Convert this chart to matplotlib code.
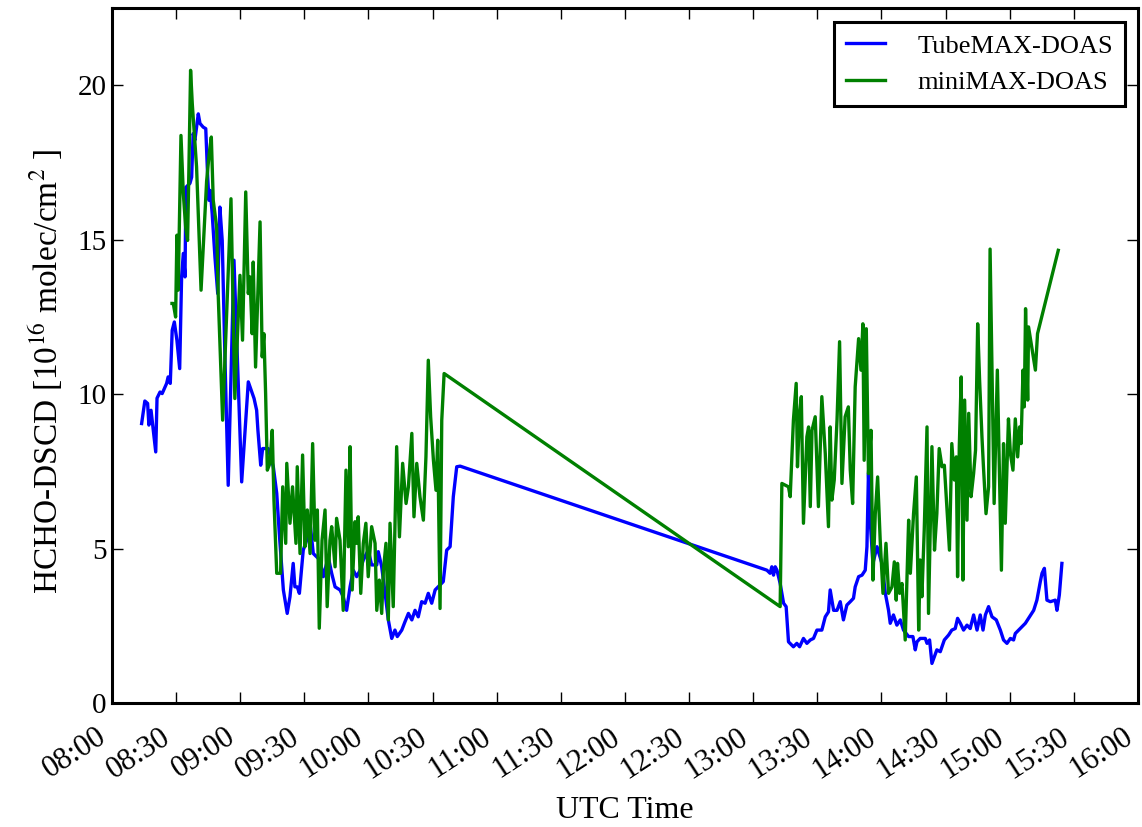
import matplotlib
matplotlib.use("Agg")
import matplotlib.pyplot as plt

plt.rcParams['font.family'] = ['Liberation Serif', 'DejaVu Serif']
plt.rcParams['mathtext.fontset'] = 'stix'

# minutes after 08:00 UTC, HCHO-DSCD in 1e16 molec/cm2
tube_min = [13.9, 15.4, 16.7, 17.3, 18.3, 20.5, 21.1, 22.5, 23.5, 25.6, 26.3, 27.3, 28.2, 29.2, 30.4, 31.7,
            32.6, 33.4, 34.2, 34.6, 36.5, 37.3, 38.0, 38.8, 40.4, 41.2, 42.7, 43.9, 44.8, 45.4, 46.0, 46.9,
            48.2, 49.5, 50.5, 51.6, 52.9, 54.4, 57.1, 60.7, 63.8, 66.5, 67.7, 68.3, 69.6, 70.5, 73.1, 75.5,
            77.1, 78.3, 80.2, 82.0, 83.3, 84.8, 85.6, 86.7, 87.7, 89.5, 91.1, 92.7, 94.2, 97.3, 98.9, 101.2,
            102.8, 104.4, 106.7, 108.2, 109.8, 111.4, 112.9, 114.5, 116.1, 117.6, 119.9, 121.5, 123.9, 124.6,
            126.2, 127.8, 129.3, 130.9, 132.4, 133.5, 135.6, 137.1, 138.7, 140.3, 141.8, 143.3, 144.9, 146.5,
            148.0, 149.6, 151.2, 155.0, 156.6, 158.2, 159.7, 161.3, 162.9,
            306.4, 307.9, 308.7, 309.5, 310.3, 311.1, 312.6, 314.2, 315.4, 316.5, 318.8, 320.4, 321.7, 323.5,
            325.1, 326.7, 328.2, 329.8, 332.1, 333.7, 335.2, 336.0, 337.6, 339.2, 340.7, 342.2, 343.8, 345.4,
            346.9, 347.7, 349.3, 350.9, 352.4, 353.2, 353.9, 354.7, 356.0, 357.9, 360.2, 361.8, 363.3, 364.1,
            365.6, 367.2, 368.8, 370.3, 372.7, 374.7, 375.8, 376.6, 378.1, 380.5, 381.3, 382.5, 383.6, 385.9,
            387.5, 389.4, 391.4, 392.9, 394.5, 395.6, 396.9, 398.4, 400.0, 401.5, 403.1, 404.7, 406.2, 407.5,
            408.6, 410.1, 411.7, 413.7, 415.6, 417.1, 418.7, 420.3, 421.8, 422.6, 424.9, 427.3, 428.8, 431.2,
            432.7, 434.3, 435.1, 436.2, 437.4, 439.0, 441.3, 442.1, 443.2, 444.4]
tube_val = [9.05, 9.78, 9.70, 9.00, 9.48, 8.13, 9.87, 10.07, 10.02, 10.35, 10.56, 10.35, 12.07, 12.34, 11.75, 10.83,
            13.80, 14.56, 13.80, 16.70, 16.83, 17.03, 18.44, 18.22, 19.08, 18.77, 18.65, 18.60, 17.03, 16.28, 16.60, 15.85,
            14.44, 13.26, 16.06, 14.98, 11.10, 7.05, 14.34, 7.16, 10.40, 9.86, 9.48, 8.83, 7.70, 8.24, 8.24, 7.65,
            6.79, 5.49, 3.66, 2.90, 3.44, 4.52, 3.76, 3.76, 3.55, 4.95, 5.27, 5.82, 4.84, 4.63, 4.09, 4.73,
            4.20, 3.76, 3.66, 3.44, 3.00, 3.76, 4.30, 4.09, 4.30, 4.63, 4.95, 4.47, 4.47, 4.90,
            4.41, 3.55, 2.69, 2.09, 2.36, 2.15, 2.36, 2.63, 2.90, 2.69, 3.00, 2.79, 3.28, 3.23,
            3.55, 3.23, 3.66, 3.93, 4.95, 5.06, 6.68, 7.65, 7.67,
            4.30, 4.20, 4.41, 4.14, 4.41, 4.30, 3.87, 3.23, 3.12, 1.98, 1.82, 1.93, 1.82, 2.09,
            1.93, 2.04, 2.09, 2.36, 2.36, 2.79, 2.95, 3.66, 3.00, 3.00, 3.28, 2.69, 3.17, 3.28,
            3.39, 3.76, 4.09, 4.14, 4.30, 5.06, 7.43, 5.92, 4.52, 5.06, 4.52, 3.55, 3.00, 2.58,
            2.85, 2.52, 2.69, 2.36, 2.15, 2.15, 1.72, 1.98, 2.09, 2.09, 1.93, 2.04, 1.28, 1.72,
            1.66, 2.04, 2.20, 2.36, 2.41, 2.74, 2.58, 2.36, 2.52, 2.41, 2.85, 2.36, 2.85, 2.36,
            2.85, 3.12, 2.79, 2.69, 2.36, 2.04, 1.93, 2.09, 2.04, 2.25, 2.41, 2.58, 2.74, 3.00,
            3.33, 3.93, 4.20, 4.36, 3.33, 3.28, 3.33, 3.00, 3.50, 4.52]

mini_min = [28.1, 28.7, 29.8, 30.4, 31.0, 32.3, 33.4, 34.5, 35.4, 36.0, 36.8, 37.6, 39.6, 41.7, 44.3, 45.5,
            46.5, 47.4, 49.0, 49.7, 51.8, 55.7, 57.5, 59.9, 61.1, 62.6, 63.8, 64.6, 65.6, 66.1, 67.2, 69.3,
            70.3, 71.1, 71.9, 72.7, 73.9, 75.0, 75.8, 77.1, 78.9, 79.9, 81.3, 81.8, 83.3, 84.5, 86.1, 86.7,
            88.0, 89.2, 90.3, 91.4, 92.7, 93.9, 95.0, 96.1, 97.0, 98.3, 99.7, 100.7, 102.0, 102.8, 104.4, 105.1,
            106.7, 108.2, 109.5, 110.6, 111.4, 112.4, 113.7, 114.5, 115.2, 116.4, 117.6, 118.8, 119.9, 121.5,
            123.1, 123.9, 125.1, 126.2, 127.0, 128.2, 129.3, 130.1, 131.6, 133.2, 134.5, 136.0, 137.6, 138.7,
            140.3, 141.3, 142.6, 144.1, 145.7, 146.9, 148.0, 149.1, 150.4, 151.6, 152.4, 153.5, 154.3, 155.4,
            312.6, 313.4, 316.5, 317.3, 318.8, 320.1, 320.7, 321.7, 322.5, 323.5, 325.1, 325.9, 326.7, 327.5,
            329.0, 330.5, 332.1, 333.7, 335.2, 336.0, 336.8, 337.9, 339.2, 340.4, 341.5, 343.0, 344.5, 345.4,
            346.5, 347.7, 349.3, 350.4, 351.3, 351.9, 352.9, 353.9, 355.1, 356.0, 357.1, 358.2, 359.4, 360.7,
            362.1, 363.3, 364.9, 366.0, 366.9, 367.5, 368.5, 369.6, 371.1, 372.7, 373.5, 375.0, 376.3, 377.4,
            378.1, 378.9, 380.0, 381.3, 382.0, 383.6, 384.8, 385.9, 387.0, 388.3, 389.4, 391.8, 392.9, 394.1,
            395.0, 395.6, 396.4, 397.3, 398.1, 398.9, 400.0, 400.8, 401.9, 403.1, 404.0, 405.0, 405.9, 407.0,
            407.7, 408.9, 410.1, 410.8, 412.7, 414.2, 415.6, 416.1, 417.1, 417.9, 419.4, 420.3, 421.5, 422.6,
            423.7, 424.6, 425.3, 426.2, 426.8, 427.4, 428.4, 428.8, 432.0, 433.0, 442.7]
mini_val = [12.94, 12.94, 12.50, 15.15, 13.37, 18.38, 16.50, 15.41, 14.98, 17.25, 20.49, 19.40, 17.36, 13.37, 16.90, 17.79,
            18.33, 16.28, 15.41, 13.26, 9.16, 16.33, 9.86, 13.85, 11.75, 16.55, 13.26, 13.80, 11.96, 14.28, 10.88, 15.58,
            11.21, 11.96, 10.02, 7.54, 7.76, 8.83, 6.57, 4.20, 4.20, 7.00, 5.17, 7.76, 5.82, 7.00, 5.17, 7.65,
            4.84, 8.03, 5.06, 6.25, 4.84, 8.40, 5.27, 6.25, 2.42, 5.27, 6.25, 3.12, 5.27, 5.71, 4.41, 5.98,
            5.27, 3.00, 7.54, 5.06, 8.30, 3.66, 5.87, 5.17, 6.03, 3.55, 5.17, 5.82, 4.09, 5.71,
            5.17, 3.00, 3.98, 2.90, 4.30, 5.17, 2.69, 5.82, 3.12, 8.30, 5.38, 7.76, 6.46, 7.00,
            8.73, 6.03, 7.76, 6.68, 5.92, 7.97, 11.10, 9.27, 7.86, 6.89, 8.51, 3.06, 9.16, 10.67,
            3.12, 7.11, 7.00, 6.68, 9.16, 10.35, 7.65, 9.38, 9.92, 5.82, 8.62, 8.94, 6.36, 8.83,
            9.27, 6.36, 9.92, 8.08, 5.71, 8.94, 6.57, 7.22, 9.16, 11.70, 7.11, 9.27, 9.59, 7.54,
            6.46, 10.24, 11.80, 10.78, 12.28, 7.86, 12.12, 7.43, 8.83, 3.98, 6.13, 7.32, 5.27, 3.55,
            5.17, 3.55, 3.76, 4.57, 3.33, 4.52, 3.55, 3.87, 2.04, 5.92, 4.20, 6.13, 7.32, 2.36,
            4.63, 3.44, 5.60, 8.94, 2.90, 8.30, 4.95, 6.13, 8.24, 7.65, 7.70, 4.95, 8.40, 7.22,
            7.97, 4.09, 8.30, 10.56, 3.98, 9.81, 5.92, 9.38, 6.68, 7.43, 8.19, 12.28, 10.45, 8.62,
            7.65, 6.13, 7.00, 14.70, 6.46, 10.78, 5.92, 4.30, 8.40, 5.82, 9.20, 8.08, 7.54, 9.20,
            7.97, 8.94, 8.40, 10.78, 9.59, 12.77, 9.81, 12.18, 10.78, 11.96, 14.66]

tick_labels = ["08:00", "08:30", "09:00", "09:30", "10:00", "10:30", "11:00", "11:30", "12:00",
               "12:30", "13:00", "13:30", "14:00", "14:30", "15:00", "15:30", "16:00"]
y_ticks = [0, 5, 10, 15, 20]

def to_hours(mins):
    return [8 + m / 60.0 for m in mins]

def label_to_hours(lbl):
    h, m = lbl.split(":")
    return int(h) + int(m) / 60.0

fig = plt.figure(figsize=(11.42, 8.27), dpi=100)
ax = fig.add_axes([0.098, 0.150, 0.8985, 0.840])

ax.plot(to_hours(tube_min), tube_val, color='#0000ff', lw=2.4, label='TubeMAX-DOAS')
ax.plot(to_hours(mini_min), mini_val, color='#008000', lw=2.4, label='miniMAX-DOAS')

ax.set_xlim(8, 16)
ax.set_ylim(0, 22.5)
ax.set_xticks([label_to_hours(t) for t in tick_labels])
ax.set_xticklabels(tick_labels, rotation=33, ha='right', fontsize=22)
ax.set_yticks(y_ticks)
ax.set_yticklabels([str(v) for v in y_ticks], fontsize=21)

for s in ax.spines.values():
    s.set_linewidth(2.2)
ax.tick_params(direction='in', length=8, width=1, top=True, right=True)
ax.tick_params(axis='y', pad=4)
ax.tick_params(axis='x', pad=14)

ax.set_xlabel('UTC Time', fontsize=23, labelpad=8)
ax.set_ylabel(r'HCHO-DSCD [10$^{16}$ molec/cm$^{2}$ ]', fontsize=24, labelpad=8)
ax.yaxis.label.set_y(0.478)

leg = ax.legend(loc='upper right', fontsize=19, fancybox=False, framealpha=1,
                borderpad=0.45, handlelength=1.5, handletextpad=1.2, labelspacing=0.5,
                borderaxespad=0, bbox_to_anchor=(0.987, 0.980))
leg.get_frame().set_edgecolor('black')
leg.get_frame().set_linewidth(2.2)

fig.savefig('out.png', dpi=100)
